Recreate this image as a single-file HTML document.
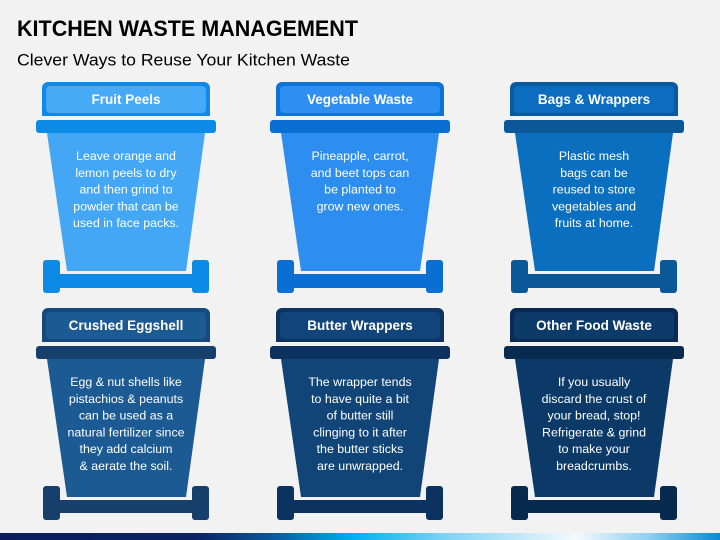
<!DOCTYPE html>
<html><head><meta charset="utf-8"><style>
html,body{margin:0;padding:0;background:#f2f2f2;}
svg{display:block;}
text{font-family:"Liberation Sans",Arial,sans-serif;}
</style></head><body>
<svg width="720" height="540" viewBox="0 0 720 540" xmlns="http://www.w3.org/2000/svg">
<defs>
<linearGradient id="bar" x1="0" y1="0" x2="1" y2="0">
<stop offset="0" stop-color="#0b1d5e"/>
<stop offset="0.27" stop-color="#0b2262"/>
<stop offset="0.38" stop-color="#0a5a9c"/>
<stop offset="0.49" stop-color="#00b0f0"/>
<stop offset="0.62" stop-color="#7fd3f5"/>
<stop offset="0.80" stop-color="#f4f9fd"/>
<stop offset="0.90" stop-color="#8fd0f2"/>
<stop offset="1" stop-color="#0a88d6"/>
</linearGradient>
</defs>
<rect width="720" height="540" fill="#f2f2f2"/>
<text x="17" y="36" font-size="22" font-weight="bold" fill="#000" textLength="341" lengthAdjust="spacingAndGlyphs">KITCHEN WASTE MANAGEMENT</text>
<text x="17" y="65.5" font-size="17" fill="#000" textLength="333" lengthAdjust="spacingAndGlyphs">Clever Ways to Reuse Your Kitchen Waste</text>

<!-- Bin template via groups -->
<!-- Row 1 col 1 -->
<g transform="translate(126,0)">
<rect x="-83" y="260" width="17" height="33" rx="3" fill="#0b8be6"/>
<rect x="66" y="260" width="17" height="33" rx="3" fill="#0b8be6"/>
<rect x="-67" y="274" width="134" height="14" fill="#0b8be6"/>
<polygon points="-79,133 79,133 60,271 -59,271" fill="#43a7f5"/>
<rect x="-90" y="120" width="180" height="13" rx="3" fill="#0b8be6"/>
<path d="M-84,116 V88 a6,6 0 0 1 6,-6 H78 a6,6 0 0 1 6,6 V116 Z" fill="#1089e8"/>
<rect x="-80" y="86" width="160" height="27" rx="4" fill="#46aaf7"/>
<text x="0" y="104" font-size="13.5" font-weight="bold" fill="#fff" text-anchor="middle">Fruit Peels</text>
<g font-size="12.4" fill="#fff" text-anchor="middle">
<text x="0" y="160">Leave orange and</text>
<text x="0" y="176.8">lemon peels to dry</text>
<text x="0" y="193.6">and then grind to</text>
<text x="0" y="210.4">powder that can be</text>
<text x="0" y="227.2">used in face packs.</text>
</g>
</g>

<!-- Row 1 col 2 -->
<g transform="translate(360,0)">
<rect x="-83" y="260" width="17" height="33" rx="3" fill="#0a6fd3"/>
<rect x="66" y="260" width="17" height="33" rx="3" fill="#0a6fd3"/>
<rect x="-67" y="274" width="134" height="14" fill="#0a6fd3"/>
<polygon points="-79,133 79,133 60,271 -59,271" fill="#2d8ef0"/>
<rect x="-90" y="120" width="180" height="13" rx="3" fill="#0a6fd3"/>
<path d="M-84,116 V88 a6,6 0 0 1 6,-6 H78 a6,6 0 0 1 6,6 V116 Z" fill="#0f72d6"/>
<rect x="-80" y="86" width="160" height="27" rx="4" fill="#2f8ff0"/>
<text x="0" y="104" font-size="13.5" font-weight="bold" fill="#fff" text-anchor="middle">Vegetable Waste</text>
<g font-size="12.4" fill="#fff" text-anchor="middle">
<text x="0" y="160">Pineapple, carrot,</text>
<text x="0" y="176.8">and beet tops can</text>
<text x="0" y="193.6">be planted to</text>
<text x="0" y="210.4">grow new ones.</text>
</g>
</g>

<!-- Row 1 col 3 -->
<g transform="translate(594,0)">
<rect x="-83" y="260" width="17" height="33" rx="3" fill="#0a5898"/>
<rect x="66" y="260" width="17" height="33" rx="3" fill="#0a5898"/>
<rect x="-67" y="274" width="134" height="14" fill="#0a5898"/>
<polygon points="-79,133 79,133 60,271 -59,271" fill="#0b6fbf"/>
<rect x="-90" y="120" width="180" height="13" rx="3" fill="#0a5898"/>
<path d="M-84,116 V88 a6,6 0 0 1 6,-6 H78 a6,6 0 0 1 6,6 V116 Z" fill="#0a5aa0"/>
<rect x="-80" y="86" width="160" height="27" rx="4" fill="#0c6cc0"/>
<text x="0" y="104" font-size="13.5" font-weight="bold" fill="#fff" text-anchor="middle">Bags &amp; Wrappers</text>
<g font-size="12.4" fill="#fff" text-anchor="middle">
<text x="0" y="160">Plastic mesh</text>
<text x="0" y="176.8">bags can be</text>
<text x="0" y="193.6">reused to store</text>
<text x="0" y="210.4">vegetables and</text>
<text x="0" y="227.2">fruits at home.</text>
</g>
</g>

<!-- Row 2 col 1 -->
<g transform="translate(126,226)">
<rect x="-83" y="260" width="17" height="34" rx="3" fill="#163f6b"/>
<rect x="66" y="260" width="17" height="34" rx="3" fill="#163f6b"/>
<rect x="-67" y="274" width="134" height="13" fill="#163f6b"/>
<polygon points="-79,133 79,133 60,271 -59,271" fill="#1c5a93"/>
<rect x="-90" y="120" width="180" height="13" rx="3" fill="#163f6b"/>
<path d="M-84,116 V88 a6,6 0 0 1 6,-6 H78 a6,6 0 0 1 6,6 V116 Z" fill="#164a7c"/>
<rect x="-80" y="86" width="160" height="27" rx="4" fill="#1c5a94"/>
<text x="0" y="104" font-size="13.5" font-weight="bold" fill="#fff" text-anchor="middle">Crushed Eggshell</text>
<g font-size="12.4" fill="#fff" text-anchor="middle">
<text x="0" y="160">Egg &amp; nut shells like</text>
<text x="0" y="176.8">pistachios &amp; peanuts</text>
<text x="0" y="193.6">can be used as a</text>
<text x="0" y="210.4">natural fertilizer since</text>
<text x="0" y="227.2">they add calcium</text>
<text x="0" y="244">&amp; aerate the soil.</text>
</g>
</g>

<!-- Row 2 col 2 -->
<g transform="translate(360,226)">
<rect x="-83" y="260" width="17" height="34" rx="3" fill="#0c3360"/>
<rect x="66" y="260" width="17" height="34" rx="3" fill="#0c3360"/>
<rect x="-67" y="274" width="134" height="13" fill="#0c3360"/>
<polygon points="-79,133 79,133 60,271 -59,271" fill="#114578"/>
<rect x="-90" y="120" width="180" height="13" rx="3" fill="#0c3360"/>
<path d="M-84,116 V88 a6,6 0 0 1 6,-6 H78 a6,6 0 0 1 6,6 V116 Z" fill="#0d3462"/>
<rect x="-80" y="86" width="160" height="27" rx="4" fill="#114579"/>
<text x="0" y="104" font-size="13.5" font-weight="bold" fill="#fff" text-anchor="middle">Butter Wrappers</text>
<g font-size="12.4" fill="#fff" text-anchor="middle">
<text x="0" y="160">The wrapper tends</text>
<text x="0" y="176.8">to have quite a bit</text>
<text x="0" y="193.6">of butter still</text>
<text x="0" y="210.4">clinging to it after</text>
<text x="0" y="227.2">the butter sticks</text>
<text x="0" y="244">are unwrapped.</text>
</g>
</g>

<!-- Row 2 col 3 -->
<g transform="translate(594,226)">
<rect x="-83" y="260" width="17" height="34" rx="3" fill="#092a4f"/>
<rect x="66" y="260" width="17" height="34" rx="3" fill="#092a4f"/>
<rect x="-67" y="274" width="134" height="13" fill="#092a4f"/>
<polygon points="-79,133 79,133 60,271 -59,271" fill="#0c3a68"/>
<rect x="-90" y="120" width="180" height="13" rx="3" fill="#092a4f"/>
<path d="M-84,116 V88 a6,6 0 0 1 6,-6 H78 a6,6 0 0 1 6,6 V116 Z" fill="#0a2a52"/>
<rect x="-80" y="86" width="160" height="27" rx="4" fill="#0c3a69"/>
<text x="0" y="104" font-size="13.5" font-weight="bold" fill="#fff" text-anchor="middle">Other Food Waste</text>
<g font-size="12.4" fill="#fff" text-anchor="middle">
<text x="0" y="160">If you usually</text>
<text x="0" y="176.8">discard the crust of</text>
<text x="0" y="193.6">your bread, stop!</text>
<text x="0" y="210.4">Refrigerate &amp; grind</text>
<text x="0" y="227.2">to make your</text>
<text x="0" y="244">breadcrumbs.</text>
</g>
</g>

<rect x="0" y="533" width="720" height="7" fill="url(#bar)"/>
</svg>
</body></html>
